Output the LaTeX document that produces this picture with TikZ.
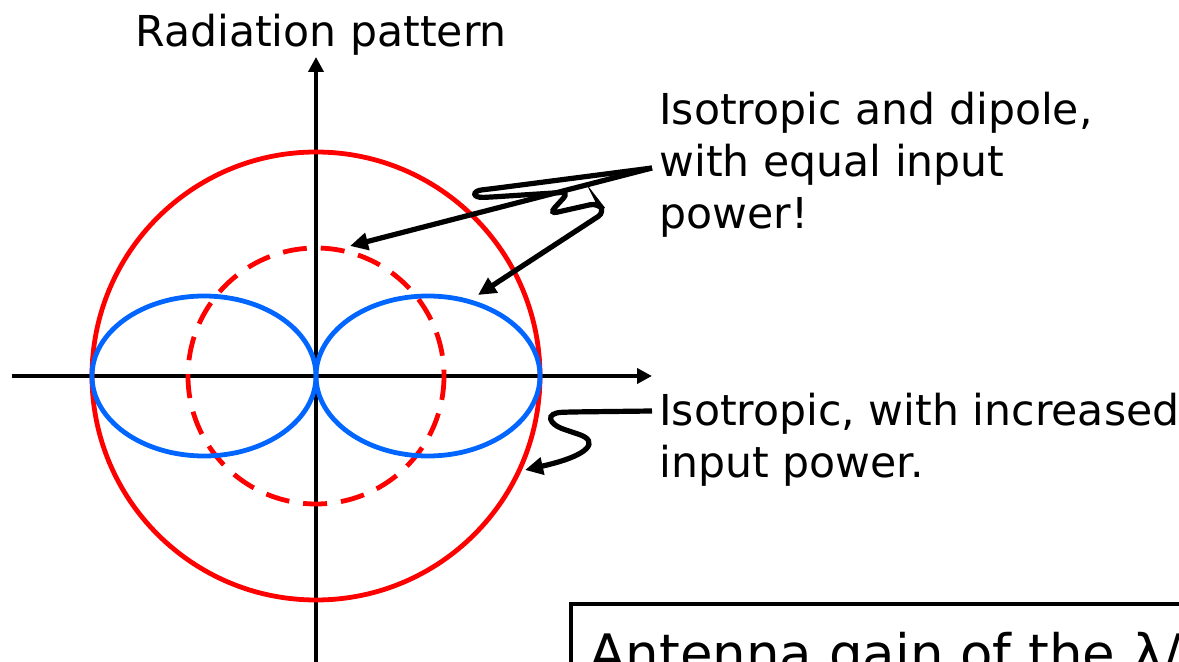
\documentclass[tikz,border=0pt]{standalone}
\usepackage{fontspec}
\setmainfont{DejaVu Sans}
\usepackage{tikz}
\usetikzlibrary{arrows.meta}
\definecolor{isored}{RGB}{255,0,0}
\definecolor{dipblue}{RGB}{0,102,255}
\tikzset{
  axisline/.style={
    line width=2.2pt,
    -{Triangle[length=7.5pt,width=7.5pt]}
  },
  isocurve/.style={draw=isored, line width=2.4pt},
  dipcurve/.style={draw=dipblue, line width=2.4pt},
  pointer/.style={
    line width=2.6pt,
    rounded corners=4pt,
    -{Triangle[length=9pt,width=8.5pt]}
  },
  lbl/.style={
    font=\fontsize{21.3}{26}\selectfont,
    inner sep=0pt,
    align=left
  }
}

\begin{document}
\begin{tikzpicture}[x=0.5pt, y=-0.5pt]
  \useasboundingbox (0,0) rectangle (1179,662);
  \clip (0,0) rectangle (1179,662);

  % axes
  \coordinate (o) at (316,376);
  \draw[axisline] (12,376) -- (652,376);
  \draw[axisline] (316,700) -- (316,57);
  \node[lbl, anchor=base west] (title) at (135,47) {Radiation pattern};

  % patterns
  \draw[isocurve] (o) circle[radius=224];
  \draw[isocurve, dash pattern=on 12pt off 7pt] (o) circle[radius=128];
  \draw[dipcurve] (204,376) ellipse[x radius=112, y radius=80];
  \draw[dipcurve] (428,376) ellipse[x radius=112, y radius=80];

  % labels
  \node[lbl, anchor=base west] (iso) at (659,229)
    {Isotropic and dipole,\\with equal input\\power!};
  \node[lbl, anchor=base west] (isohigh) at (659,478)
    {Isotropic, with increased\\input power.};

  \coordinate (isosrc) at (652,168);
  \coordinate (dashtip) at (350,246);
  \coordinate (lobetip) at (478,295);
  \coordinate (highsrc) at (652,411);
  \coordinate (circtip) at (525,470);

  \draw[pointer] (isosrc) -- (dashtip);
  \draw[pointer] (isosrc) -- (490,189)
    .. controls (472,191) and (472,198) .. (492,197)
    -- (569,192) -- (549,214) -- (598,203) -- (605,212) -- (lobetip);
  \draw[pointer] (highsrc) -- (570,412)
    .. controls (545,413) and (548,424) .. (572,432)
    .. controls (598,441) and (592,455) .. (circtip);

  % gain box
  \draw[line width=2.2pt] (571,604) rectangle (1300,760);
  \node[font=\fontsize{26.5}{31}\selectfont, inner sep=0pt, anchor=base west]
    (gain) at (589,673) {Antenna gain of the λ/2 dipole};
\end{tikzpicture}
\end{document}
